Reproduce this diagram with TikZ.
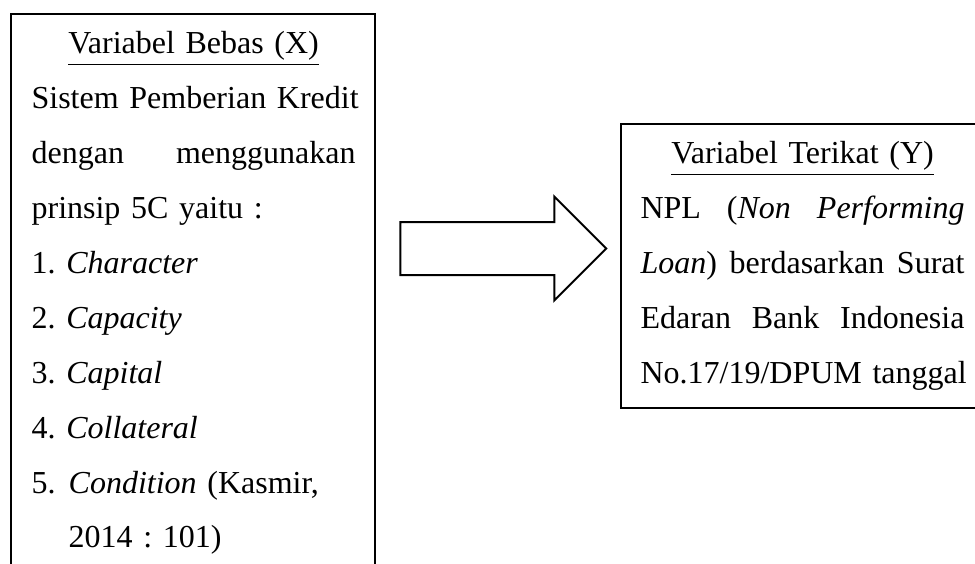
\documentclass[tikz,border=0pt]{standalone}
\usepackage{fontspec}
\setmainfont{Liberation Serif}
\usetikzlibrary{shapes.arrows}
\frenchspacing
\newcommand{\judul}[1]{\makebox[\hsize]{\underline{#1}}}

\begin{document}
\begin{tikzpicture}[x=0.375pt, y=-0.375pt,
    kotak/.style={draw, line width=0.75pt, inner sep=0pt, minimum width=136.5pt, anchor=north west},
    isi/.style={inner sep=0pt, text width=121.5pt, align=left, anchor=north west,
        font=\fontsize{12}{20.6}\selectfont}]
    \clip (0,0) rectangle (975,563);

    % Variable boxes (left one runs past the bottom, right one past the right edge)
    \node[kotak, minimum height=228pt] (bebas) at (10,13) {};
    \node[kotak, minimum height=106.5pt] (terikat) at (620,123) {};

    % Texts inside the boxes
    \node[isi] (teksBebas) at ([xshift=7.9pt, yshift=-0.6pt]bebas.north west) {\strut\judul{Variabel Bebas (X)}\\
        \mbox{Sistem Pemberian Kredit}\\
        dengan \hfill menggunakan\\
        prinsip 5C yaitu :\\
        1. \textit{Character}\\
        2. \textit{Capacity}\\
        3. \textit{Capital}\\
        4. \textit{Collateral}\\
        5.\hspace{4.9pt}\textit{Condition} (Kasmir,\\
        \hspace*{13.9pt}2014 : 101)};
    \node[isi] (teksTerikat) at ([xshift=7.5pt, yshift=-0.6pt]terikat.north west) {\strut\judul{Variabel Terikat (Y)}\\
        NPL \hfill (\textit{Non} \hfill \textit{Performing}\\
        \textit{Loan}) \hfill berdasarkan \hfill Surat\\
        Edaran \hfill Bank \hfill Indonesia\\
        \mbox{No.17/19/DPUM tanggal}};

    % Block arrow X -> Y
    \node[single arrow, draw, line width=0.75pt, inner xsep=0pt, inner ysep=9.56pt, minimum height=77.25pt,
        single arrow head extend=9.56pt] (panah) at (490,248.5) {};
\end{tikzpicture}
\end{document}
